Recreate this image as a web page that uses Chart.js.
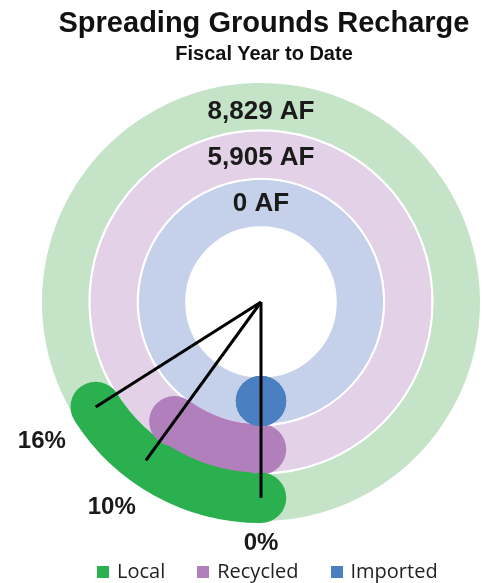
<!DOCTYPE html>
<html>
<head>
<meta charset="utf-8">
<title>Spreading Grounds Recharge</title>
<script src="https://cdn.jsdelivr.net/npm/chart.js@4.4.1/dist/chart.umd.min.js"></script>
<style>
  html, body { margin: 0; padding: 0; background: #fff; overflow: hidden; }
  #wrap { position: relative; width: 484px; height: 583px; }
  #chart { position: absolute; left: 0; top: 0; }
  .heading {
    position: absolute; left: 22px; width: 484px; text-align: center;
    font-family: "Liberation Sans", Arial, sans-serif; font-weight: bold;
    color: #111; white-space: nowrap;
  }
  #title { top: 8px; font-size: 29px; line-height: 29px; }
  #subtitle { top: 43px; font-size: 20px; line-height: 20px; }
  #legend {
    position: absolute; left: 97px; top: 561px; display: flex; gap: 32px;
    font-family: "Open Sans", sans-serif; font-size: 20px; line-height: 20px; color: #222;
  }
  .item { white-space: nowrap; }
  .box { display: inline-block; width: 12px; height: 12px; margin-right: 8px; vertical-align: baseline; }
</style>
</head>
<body>
<div id="wrap">
  <canvas id="chart" width="484" height="583"></canvas>
  <div class="heading" id="title">Spreading Grounds Recharge</div>
  <div class="heading" id="subtitle">Fiscal Year to Date</div>
  <div id="legend"></div>
</div>
<script>
// Rings, outer to inner
const seriesNames = ['Local', 'Recycled', 'Imported'];
const percentValues = [16, 10, 0];
const amountLabels = ['8,829 AF', '5,905 AF', '0 AF'];

const fillColors = ['#2bb04f', '#b07fbc', '#4a80c2'];
const trackColors = ['#c5e3c7', '#e3d1e8', '#c5d1ea'];

/**
 * Round caps, pointer lines and text on top of the rings
 */
const ringDecor = {
  id: 'ringDecor',
  afterDatasetsDraw(chart) {
    const ctx = chart.ctx;
    const arcs = chart.data.datasets.map((d, i) => chart.getDatasetMeta(i).data[0]);
    const hole = arcs[arcs.length - 1].innerRadius;

    ctx.save();

    // round ends of the filled part (middle ring first so the others sit on top)
    [1, 0, 2].forEach(i => {
      const a = arcs[i];
      const mid = (a.innerRadius + a.outerRadius) / 2;
      const r = (a.outerRadius - a.innerRadius) / 2 + 1;
      ctx.fillStyle = fillColors[i];
      [a.startAngle, a.endAngle].forEach(ang => {
        ctx.beginPath();
        ctx.arc(a.x + mid * Math.cos(ang), a.y + mid * Math.sin(ang), r, 0, Math.PI * 2);
        ctx.fill();
      });
    });

    // lines from the centre out to the outer ring
    const outer = arcs[0];
    const reach = (outer.innerRadius + outer.outerRadius) / 2;
    ctx.strokeStyle = '#000';
    ctx.lineWidth = 3;
    arcs.forEach(a => {
      ctx.beginPath();
      ctx.moveTo(a.x, a.y);
      ctx.lineTo(a.x + reach * Math.cos(a.endAngle), a.y + reach * Math.sin(a.endAngle));
      ctx.stroke();
    });

    // percent labels outside the rings
    ctx.fillStyle = '#1a1a1a';
    ctx.textAlign = 'center';
    ctx.textBaseline = 'middle';
    ctx.font = 'bold 24px "Liberation Sans", Arial, sans-serif';
    arcs.forEach((a, i) => {
      const c = Math.cos(a.endAngle);
      const r = outer.outerRadius + 21 + 22 * Math.abs(c);
      ctx.fillText(percentValues[i] + '%', a.x + r * c, a.y + r * Math.sin(a.endAngle));
    });

    // amounts at the top of each ring
    ctx.font = 'bold 26px "Liberation Sans", Arial, sans-serif';
    arcs.forEach((a, i) => {
      const mid = (a.innerRadius + a.outerRadius) / 2;
      const r = mid - 0.05 * (mid - hole);
      ctx.fillText(amountLabels[i], a.x, a.y - r);
    });

    ctx.restore();
  }
};

new Chart(document.getElementById('chart'), {
  type: 'doughnut',
  data: {
    labels: ['To date', 'Remaining'],
    datasets: seriesNames.map((name, i) => ({
      label: name,
      data: [percentValues[i], 100 - percentValues[i]],
      backgroundColor: [fillColors[i], trackColors[i]],
      borderColor: [fillColors[i], '#ffffff'],
      borderWidth: 2
    }))
  },
  options: {
    responsive: false,
    animation: false,
    events: [],
    rotation: 180,
    radius: 220,
    cutout: '34%',
    layout: { padding: { left: 40, right: 2, top: 60, bottom: 39 } },
    plugins: {
      legend: { display: false },
      title: { display: false },
      tooltip: { enabled: false }
    }
  },
  plugins: [ringDecor]
});

// legend
document.getElementById('legend').innerHTML = seriesNames.map((name, i) => `
  <div class="item"><span class="box" style="background:${fillColors[i]}"></span>${name}</div>
`).join('');
</script>
</body>
</html>
